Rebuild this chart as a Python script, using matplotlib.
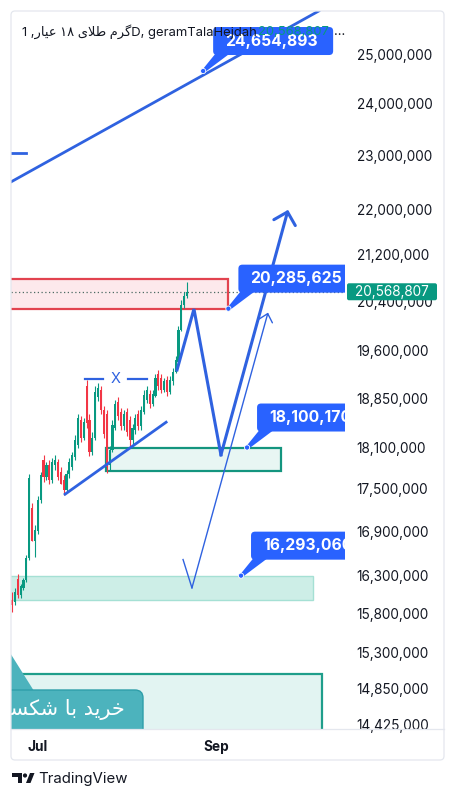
import matplotlib
matplotlib.use('Agg')
import matplotlib.pyplot as plt
import matplotlib.transforms as mtransforms
from matplotlib.patches import Rectangle, FancyBboxPatch, Polygon, Circle
from matplotlib.ticker import NullLocator
import numpy as np

plt.rcParams['font.family'] = ['Inter', 'DejaVu Sans']

# daily candles, day 0 = 22 Jun (prices in millions)
opens = [15.97, 15.94, 16.25, 16.03, 16.13, 16.24, 16.53, 17.23, 16.77, 16.90,
         17.34, 17.92, 17.67, 17.84, 17.63, 17.84, 17.89, 17.74, 17.63, 17.48,
         17.71, 17.81, 17.96, 18.14, 18.52, 18.24, 19.04, 18.52, 18.04, 18.24,
         18.86, 18.98, 18.67, 18.61, 17.84, 18.07, 18.40, 18.79, 18.64, 18.42,
         18.64, 18.52, 18.21, 18.36, 18.61, 18.42, 18.64, 18.82, 18.92, 18.76,
         18.88, 19.22, 19.16, 18.98, 19.13, 18.95, 19.11, 19.26, 19.42, 19.94,
         20.35, 20.50]
highs = [16.07, 16.13, 16.31, 16.18, 16.26, 16.57, 17.71, 17.30, 16.98, 17.39,
         17.74, 17.99, 17.89, 17.92, 17.94, 17.99, 17.93, 17.81, 17.70, 17.77,
         17.94, 18.04, 18.29, 18.61, 18.57, 18.55, 19.13, 18.60, 18.33, 19.04,
         19.09, 19.04, 18.73, 18.67, 18.12, 18.52, 18.82, 18.86, 18.70, 18.67,
         18.70, 18.58, 18.46, 18.61, 18.67, 18.73, 18.98, 19.04, 18.98, 18.98,
         19.22, 19.29, 19.22, 19.16, 19.19, 19.19, 19.32, 19.51, 20.00, 20.43,
         20.57, 20.74]
lows = [15.81, 15.90, 16.00, 16.00, 16.10, 16.21, 16.51, 16.76, 16.55, 16.86,
        17.30, 17.60, 17.63, 17.57, 17.58, 17.77, 17.63, 17.57, 17.41, 17.45,
        17.66, 17.77, 17.92, 18.10, 18.18, 18.21, 18.40, 17.97, 17.99, 18.21,
        18.80, 18.61, 18.24, 17.72, 17.77, 18.04, 18.36, 18.52, 18.36, 18.36,
        18.27, 18.13, 18.15, 18.30, 18.36, 18.36, 18.60, 18.77, 18.70, 18.72,
        18.86, 18.98, 18.93, 18.95, 18.88, 18.92, 19.06, 19.24, 19.37, 19.91,
        20.30, 20.46]
closes = [15.91, 16.07, 16.03, 16.16, 16.24, 16.53, 17.66, 16.77, 16.92, 17.34,
          17.69, 17.67, 17.84, 17.63, 17.88, 17.92, 17.67, 17.57, 17.48, 17.71,
          17.89, 17.99, 18.21, 18.55, 18.24, 18.49, 18.47, 18.04, 18.24, 18.95,
          19.01, 18.67, 18.30, 17.81, 18.07, 18.44, 18.76, 18.58, 18.42, 18.61,
          18.33, 18.21, 18.40, 18.55, 18.42, 18.67, 18.90, 18.98, 18.76, 18.92,
          19.16, 19.04, 18.98, 19.11, 18.95, 19.13, 19.26, 19.45, 19.94, 20.35,
          20.50, 20.568807]
last_price = 20568807

price_ticks = [25000000, 24000000, 23000000, 22000000, 21200000, 20400000,
               19600000, 18850000, 18100000, 17500000, 16900000, 16300000,
               15800000, 15300000, 14850000, 14425000]
month_days = [9, 71]
month_labels = ['Jul', 'Sep']

# drawings: (day, price)
red_zone_days = [-1, 75.2]
red_zone_prices = [20285625, 20790000]
green_zone_days = [32.7, 93.7]
green_zone_prices = [17756000, 18100170]
low_zone_days = [-1, 104.9]
low_zone_prices = [15970000, 16293060]
buy_zone_days = [-1, 108.0]
buy_zone_prices = [14000000, 15030000]

channel_days = [-0.35, 106.3]
channel_prices = [22510000, 25880000]
dash_days = [-1, 4.9]
dash_price = 23050000
trend_days = [18.5, 53.7]
trend_prices = [17420000, 18480000]
zigzag_days = [57.5, 63.4, 72.8, 96.2]
zigzag_prices = [19290000, 20280000, 17990000, 22000000]
thin_days = [59.6, 62.7, 89.2]
thin_prices = [16510000, 16130000, 20220000]
x_days = [25.4, 31.7, 40.4, 47.0]
x_mark_day = 36.2
x_price = 19150000

callout_days = [66.6, 75.4, 81.9, 79.8]
callout_prices = [24654893, 20285625, 18100170, 16293060]

title_latin = 'D, geramTalaHejdah'
title_fa = '1 ,\uFEAD\uFE8E\uFBFF\uFECB \u06F1\u06F8 \uFBFC\uFEFC\uFEC3 \uFEE1\uFEAE\uFB94'
buy_text = '\uFE96\uFEB4\uFB91\uFEB7 \uFE8E\uFE91 \uFEAA\uFBFE\uFEAE\uFEA7'

green = '#089981'
red = '#f23645'
blue = '#2f62e0'
box_blue = '#2962ff'
ink = '#131722'
ident = mtransforms.IdentityTransform()

fig = plt.figure(figsize=(4.55, 8), dpi=100)
ax = fig.add_axes([11 / 455, 71 / 800, 334 / 455, 718 / 800])
ax.set_yscale('log')
ax.set_xlim(-0.35, 116.03)
ax.set_ylim(14.366e6, 25.90e6)
ax.set_autoscale_on(False)
for s in ax.spines.values():
    s.set_visible(False)

# zones
def zone(days, prices, fc, ec, lw, z=1):
    ax.add_patch(Rectangle((days[0], prices[0]), days[1] - days[0], prices[1] - prices[0],
                           fc=fc, ec=ec, lw=lw, zorder=z))

zone(red_zone_days, red_zone_prices, '#fde9ec', '#e2434f', 1.6)
zone(green_zone_days, green_zone_prices, '#e8f6f3', '#14957f', 1.6)
zone(low_zone_days, low_zone_prices, '#cdeee7', '#a5e0d4', 1.0)
zone(buy_zone_days, buy_zone_prices, '#e2f4f2', '#1f9e8b', 1.6)

# candles
o = np.array(opens) * 1e6
h = np.array(highs) * 1e6
l = np.array(lows) * 1e6
c = np.array(closes) * 1e6
days = np.arange(len(o))
cols = [green if cc >= oo else red for oo, cc in zip(o, c)]
ax.vlines(days, l, h, colors=cols, lw=0.8, zorder=3)
ax.bar(days, np.maximum(np.abs(c - o), 8000), bottom=np.minimum(o, c), width=0.75,
       color=cols, zorder=3)

ax.axhline(last_price, color='#4c6b63', ls=(0, (1, 2)), lw=0.9, zorder=2)

# drawings
ax.axline((channel_days[0], channel_prices[0]), (channel_days[1], channel_prices[1]),
          color=blue, lw=2, zorder=4)
ax.plot(dash_days, [dash_price] * 2, color=blue, lw=2, zorder=4)
ax.plot(trend_days, trend_prices, color=blue, lw=2, zorder=4)
ax.plot(x_days[:2], [x_price] * 2, color=blue, lw=1.6, zorder=4)
ax.plot(x_days[2:], [x_price] * 2, color=blue, lw=1.6, zorder=4)
ax.text(x_mark_day, x_price, 'X', color=blue, fontsize=10.5, ha='center', va='center', zorder=4)

ax.plot(zigzag_days[:3], zigzag_prices[:3], color=blue, lw=2.2, zorder=4,
        solid_joinstyle='miter')
ax.annotate('', xy=(zigzag_days[3], zigzag_prices[3]), xytext=(zigzag_days[2], zigzag_prices[2]),
            arrowprops=dict(arrowstyle='->,head_length=0.8,head_width=0.8', lw=2.2,
                            color=blue, shrinkA=0, shrinkB=0), zorder=4)
ax.plot(thin_days[:2], thin_prices[:2], color=blue, lw=1, zorder=4)
ax.annotate('', xy=(thin_days[2], thin_prices[2]), xytext=(thin_days[1], thin_prices[1]),
            arrowprops=dict(arrowstyle='->,head_length=0.55,head_width=0.5', lw=1,
                            color=blue, shrinkA=0, shrinkB=0), zorder=4)

# callouts
for d, p in zip(callout_days, callout_prices):
    x0, y0 = ax.transData.transform((d, p))
    bl, bb = x0 + 10, y0 + 16
    ax.add_patch(Polygon([(x0 - 1, y0 + 1), (bl + 2, bb + 1), (bl + 16, bb + 1), (x0 + 2, y0 - 1)],
                         transform=ident, fc=box_blue, ec='none', zorder=6))
    ax.add_patch(FancyBboxPatch((bl, bb), 120, 28, boxstyle='round,pad=0,rounding_size=4',
                                transform=ident, fc=box_blue, ec='none', zorder=6))
    ax.add_patch(Circle((x0, y0), 2.6, transform=ident, fc=box_blue, ec='white', lw=0.6, zorder=6))
    ax.text(bl + 12, bb + 14, f'{p:,}', transform=ident, color='white', fontweight='bold',
            fontsize=11.3, ha='left', va='center', clip_on=True, zorder=7)

# buy callout at bottom left
ax.add_patch(Polygon([(2, 800 - 640), (34, 800 - 691), (6, 800 - 691)], transform=ident,
                     fc='#4cb3bd', ec='none', zorder=6))
ax.add_patch(FancyBboxPatch((-20, 800 - 745), 163, 55, boxstyle='round,pad=0,rounding_size=8',
                            transform=ident, fc='#4cb3bd', ec='#2e9ea9', lw=1, zorder=6))
ax.text(125, 800 - 710, buy_text, transform=ident, color='white', fontsize=15,
        family=['DejaVu Sans'], ha='right', va='center', clip_on=True, zorder=7)

# title legend (drawn above drawings, as in the app)
ax.text(22, 800 - 32, title_fa + title_latin, transform=ident, color=ink, fontsize=9.4,
        ha='left', va='center', zorder=10)
ax.text(258, 800 - 32, '20,568,807', transform=ident, color=green, fontsize=9.4,
        ha='left', va='center', zorder=10)
ax.text(334, 800 - 32, '...', transform=ident, color=ink, fontsize=9.4,
        ha='left', va='center', zorder=10)

# axes
ax.set_yticks(price_ticks)
ax.set_yticklabels([f'{v:,}' for v in price_ticks])
ax.yaxis.set_minor_locator(NullLocator())
ax.yaxis.tick_right()
ax.tick_params(axis='y', length=0, pad=8.5, labelsize=9.8, labelcolor=ink)
ax.set_xticks(month_days)
ax.set_xticklabels(month_labels, fontweight='bold')
ax.tick_params(axis='x', length=0, pad=8, labelsize=9.8, labelcolor=ink)

# current price label
_, yp = ax.transData.transform((0, last_price))
ax.add_patch(FancyBboxPatch((347, yp - 8.5), 90, 17, boxstyle='round,pad=0,rounding_size=2',
                            transform=ident, fc=green, ec='none', clip_on=False, zorder=8))
ax.text(392, yp, f'{last_price:,}', transform=ident, color='white', fontsize=9.8,
        ha='center', va='center', clip_on=False, zorder=9)

# frame
fig.add_artist(FancyBboxPatch((11, 40), 433, 749, boxstyle='round,pad=0,rounding_size=4',
                              transform=ident, fc='none', ec='#e4e7ee', lw=0.9))
fig.add_artist(plt.Line2D([11, 444], [71, 71], transform=ident, color='#e4e7ee', lw=0.9))

# TradingView logo
fig.add_artist(Polygon([(12, 27), (22, 27), (22, 17), (17.5, 17), (17.5, 23), (12, 23)],
                       transform=ident, fc=ink, ec='none'))
fig.add_artist(Circle((25, 24.5), 2.1, transform=ident, fc=ink, ec='none'))
fig.add_artist(Polygon([(26, 17), (30.5, 17), (34.5, 27), (30, 27)],
                       transform=ident, fc=ink, ec='none'))
fig.text(38 / 455, 21.5 / 800, 'TradingView', color=ink, fontsize=10.8, ha='left', va='center')

fig.savefig('out.png', dpi=100, facecolor='white')
